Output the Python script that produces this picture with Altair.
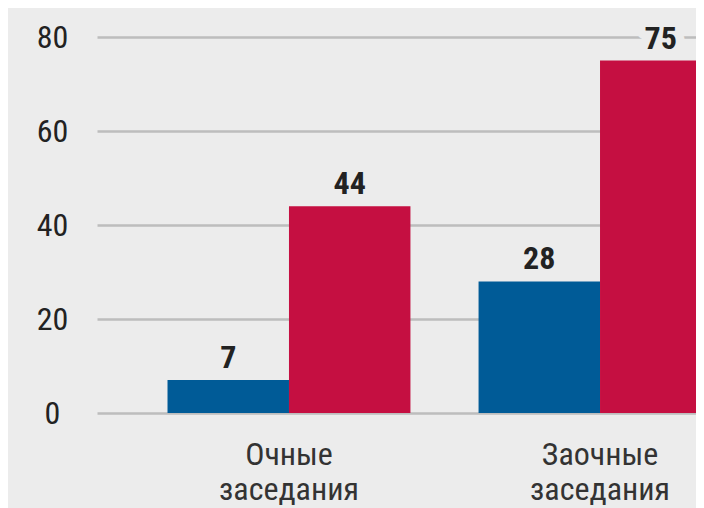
import altair as alt
import pandas as pd

categories = ["Очные заседания", "Заочные заседания"]
series = ["Серия 1", "Серия 2"]
values_s1 = [7, 28]
values_s2 = [44, 75]

rows = []
for i, c in enumerate(categories):
    rows.append({"cat": c, "series": series[0], "value": values_s1[i]})
    rows.append({"cat": c, "series": series[1], "value": values_s2[i]})
df = pd.DataFrame(rows)

FONT = "Roboto Condensed, DejaVu Sans Condensed, sans-serif"
BG = "#ececec"

x_enc = alt.X("cat:N", sort=categories, title=None,
              scale=alt.Scale(range=[0, 695], paddingInner=0.219, paddingOuter=0.2267),
              axis=alt.Axis(labelAngle=0, domain=False, ticks=False, labelFont=FONT,
                            labelFontSize=32, labelColor="#333333", labelPadding=26,
                            labelLineHeight=35, labelExpr="split(datum.label, ' ')"))
y_enc = alt.Y("value:Q", title=None,
              scale=alt.Scale(domain=[0, 80], nice=False),
              axis=alt.Axis(values=[0, 20, 40, 60, 80], domain=False, ticks=False, tickSize=0,
                            labelFont=FONT, labelFontSize=32, labelColor="#222222",
                            labelAlign="center", labelBaseline="middle", labelPadding=45,
                            grid=True, gridColor="#bdbdbd", gridWidth=2.5))
xo = alt.XOffset("series:N", sort=series, scale=alt.Scale(paddingInner=0, paddingOuter=0))

base = alt.Chart(df)

bars = base.mark_bar().encode(
    x=x_enc, y=y_enc, xOffset=xo,
    color=alt.Color("series:N", sort=series, legend=None,
                    scale=alt.Scale(domain=series, range=["#005b97", "#c50f41"])),
)

halo = base.mark_text(font=FONT, fontSize=32, fontWeight="bold", baseline="alphabetic",
                      dy=-12, color=BG, stroke=BG, strokeWidth=18, strokeJoin="round").encode(
    x=alt.X("cat:N", sort=categories), y="value:Q", xOffset=xo, text="value:Q")

labels = base.mark_text(font=FONT, fontSize=32, fontWeight="bold", baseline="alphabetic",
                        dy=-12, color="#222222").encode(
    x=alt.X("cat:N", sort=categories), y="value:Q", xOffset=xo, text="value:Q")

chart = alt.layer(bars, halo, labels).properties(
    width=599, height=376,
    autosize=alt.AutoSizeParams(type="none"),
    padding={"left": 89, "top": 29, "right": 0, "bottom": 95},
    background=BG,
).configure_view(stroke=None)

chart.save("out.html", embed_options={"renderer": "svg", "actions": False})
